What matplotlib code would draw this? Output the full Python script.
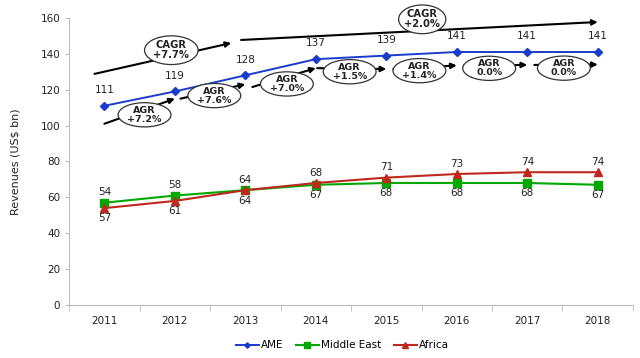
import matplotlib
matplotlib.use("Agg")
import matplotlib.pyplot as plt
from matplotlib.patches import Ellipse

years = ["2011", "2012", "2013", "2014", "2015", "2016", "2017", "2018"]
ame = [111, 119, 128, 137, 139, 141, 141, 141]
middle_east = [57, 61, 64, 67, 68, 68, 68, 67]
africa = [54, 58, 64, 68, 71, 73, 74, 74]
agr_labels = ["+7.2%", "+7.6%", "+7.0%", "+1.5%", "+1.4%", "0.0%", "0.0%"]
cagr_labels = ["+7.7%", "+2.0%"]

# layout of the growth callouts (x in category index, y in axis units)
agr_path = [(0.0, 101), (1.0, 115), (1.08, 115), (2.0, 123), (2.1, 121.5), (3.0, 132),
            (3.02, 132), (4.0, 131.5), (4.1, 131.5), (5.0, 133.5), (5.1, 133.5),
            (6.0, 133.8), (6.1, 133.8), (7.0, 134)]
agr_boxes = [(0.57, 106), (1.56, 116.7), (2.59, 123.2), (3.48, 130), (4.47, 130.6),
             (5.46, 131.9), (6.52, 132)]
cagr_arrows = [((-0.14, 128.8), (1.8, 146)), ((1.94, 147.7), (7.0, 157.7))]
cagr_boxes = [(0.95, 142, 0.76), (4.51, 159.2, 0.67)]

blue = "#1a3ccc"
green = "#00a800"
red = "#c0281e"

fig = plt.figure(figsize=(6.4, 3.58), dpi=100)
ax = fig.add_axes([0.108, 0.148, 0.881, 0.802])
x = list(range(len(years)))

ax.plot(x, ame, color=blue, marker="D", markersize=4, lw=1.4, label="AME", zorder=4)
ax.plot(x, middle_east, color=green, marker="s", markersize=6, lw=1.5, label="Middle East", zorder=3)
ax.plot(x, africa, color=red, marker="^", markersize=6, lw=1.5, label="Africa", zorder=3)

fs = 7.5
for i in x:
    ax.text(i, ame[i] + 6, str(ame[i]), ha="center", va="bottom", fontsize=fs, color="#222222")
    top = max(africa[i], middle_east[i])
    low = min(africa[i], middle_east[i])
    ax.text(i, top + 3, str(africa[i]), ha="center", va="bottom", fontsize=fs, color="#222222")
    ax.text(i, low - 3, str(middle_east[i]), ha="center", va="top", fontsize=fs, color="#222222")

# AGR arrows between years
for k in range(0, len(agr_path), 2):
    (x0, y0), (x1, y1) = agr_path[k], agr_path[k + 1]
    ax.annotate("", xy=(x1, y1), xytext=(x0, y0),
                arrowprops=dict(arrowstyle="-|>", color="black", lw=1.5,
                                mutation_scale=8, shrinkA=0, shrinkB=0), zorder=2)
for (bx, by), lab in zip(agr_boxes, agr_labels):
    ax.add_patch(Ellipse((bx, by), 0.75, 13.5, facecolor="white", edgecolor="#333333", lw=0.9, zorder=5))
    ax.text(bx, by, "AGR\n" + lab, ha="center", va="center", fontsize=6.8,
            fontweight="bold", color="#222222", zorder=6, linespacing=1.0)

# CAGR arrows
for (p0, p1) in cagr_arrows:
    ax.annotate("", xy=p1, xytext=p0,
                arrowprops=dict(arrowstyle="-|>", color="black", lw=1.5,
                                mutation_scale=8, shrinkA=0, shrinkB=0),
                zorder=2, annotation_clip=False)
for (bx, by, w), lab in zip(cagr_boxes, cagr_labels):
    e = Ellipse((bx, by), w, 16, facecolor="white", edgecolor="#333333", lw=0.9, zorder=5)
    e.set_clip_on(False)
    ax.add_patch(e)
    ax.text(bx, by, "CAGR\n" + lab, ha="center", va="center", fontsize=7.2,
            fontweight="bold", color="#222222", zorder=6, linespacing=1.0, clip_on=False)

ax.set_xlim(-0.5, 7.5)
ax.set_ylim(0, 160)
ax.set_yticks(range(0, 161, 20))
ax.set_xticks(x)
ax.set_xticklabels(years)
ax.set_xticks([i - 0.5 for i in range(len(years) + 1)], minor=True)
ax.tick_params(axis="x", which="major", length=0, pad=8, labelsize=fs, colors="#222222")
ax.tick_params(axis="x", which="minor", length=4, color="#bbbbbb")
ax.tick_params(axis="y", length=3, color="#bbbbbb", labelsize=fs, labelcolor="#222222")
for s in ["top", "right"]:
    ax.spines[s].set_visible(False)
for s in ["left", "bottom"]:
    ax.spines[s].set_color("#bbbbbb")
ax.set_ylabel("Revenues (US$ bn)", fontsize=8, color="#222222", labelpad=14)

fig.legend(loc="lower center", bbox_to_anchor=(0.535, -0.005), ncol=3, frameon=False,
           fontsize=7.5, handlelength=2.2, handletextpad=0.2, columnspacing=1.2,
           markerscale=0.7)

fig.savefig("out.png", dpi=100)
